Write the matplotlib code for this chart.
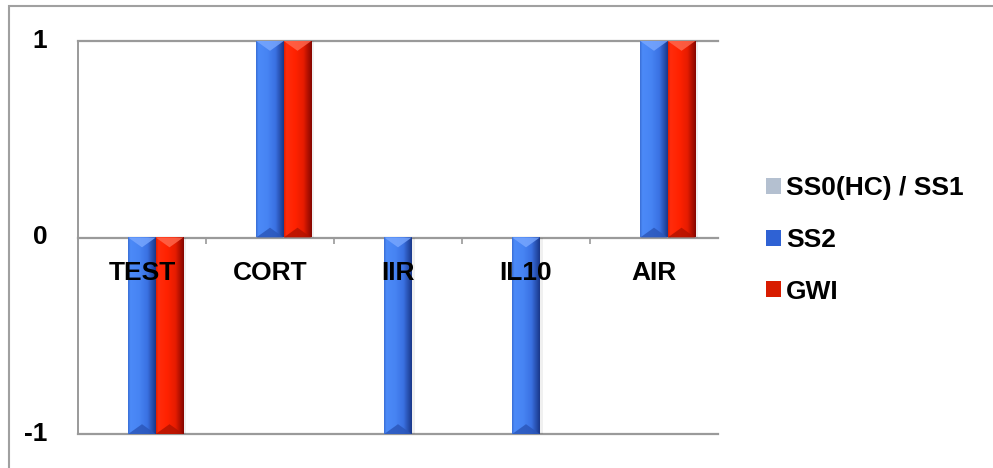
import matplotlib
matplotlib.use("Agg")
import matplotlib.pyplot as plt
import numpy as np
from matplotlib.colors import LinearSegmentedColormap
from matplotlib.patches import Rectangle, Polygon

plt.rcParams['font.family'] = ['Liberation Sans', 'DejaVu Sans']

categories = ["TEST", "CORT", "IIR", "IL10", "AIR"]
series_names = ["SS0(HC) / SS1", "SS2", "GWI"]
ss0_values = [0, 0, 0, 0, 0]
ss2_values = [-1, 1, -1, -1, 1]
gwi_values = [-1, 1, 0, 0, 1]
y_ticks = [-1, 0, 1]

W, H = 993, 468
fig = plt.figure(figsize=(W / 100, H / 100), dpi=100)
ax = fig.add_axes([78 / W, 1 - 434 / H, (718 - 78) / W, (434 - 41) / H])

grad_stops = {
    "SS2": ["#3a6ed6", "#4c8af8", "#4784f3", "#3a71e2", "#1a388a"],
    "GWI": ["#e01e00", "#ff2c0c", "#ff2200", "#e61c00", "#860600"],
    "SS0(HC) / SS1": ["#9aa8ba", "#c4cfdc", "#bcc8d6", "#a8b4c4", "#6a7688"],
}
top_col = {"SS2": "#7aa8ff", "GWI": "#ff6a50", "SS0(HC) / SS1": "#e0e8f0"}
bot_col = {"SS2": "#2a55b8", "GWI": "#b01200", "SS0(HC) / SS1": "#8090a0"}
legend_col = {"SS2": "#2f62d4", "GWI": "#d81c00", "SS0(HC) / SS1": "#b4c0d0"}

x = np.arange(len(categories))
bw = 0.215
offsets = [-bw, 0.0, bw]
all_vals = [ss0_values, ss2_values, gwi_values]

ax.set_xlim(-0.5, len(categories) - 0.5)
ax.set_ylim(-1, 1)

for name, vals, off in zip(series_names, all_vals, offsets):
    bars = ax.bar(x + off, vals, width=bw, color="none", edgecolor="none", zorder=2)
    cmap = LinearSegmentedColormap.from_list(name, list(zip([0, 0.08, 0.4, 0.7, 1.0], grad_stops[name])))
    for b in bars:
        h = b.get_height()
        if h == 0:
            continue
        x0 = b.get_x()
        x1 = x0 + b.get_width()
        ylo, yhi = sorted([b.get_y(), b.get_y() + h])
        # soft shadow
        ax.add_patch(Rectangle((x1, ylo), 0.025, yhi - ylo, facecolor="#000000",
                               alpha=0.06, edgecolor="none", zorder=1.8))
        grad = np.linspace(0, 1, 64).reshape(1, -1)
        ax.imshow(grad, cmap=cmap, extent=[x0, x1, ylo, yhi], aspect="auto",
                  zorder=2, interpolation="bilinear")
        xc = (x0 + x1) / 2
        th = 0.05
        ax.add_patch(Polygon([[x0, yhi], [x1, yhi], [xc, yhi - th]], closed=True,
                             facecolor=top_col[name], edgecolor="none", alpha=0.8, zorder=2.1))
        ax.add_patch(Polygon([[x0, ylo], [x1, ylo], [xc, ylo + th]], closed=True,
                             facecolor=bot_col[name], edgecolor="none", alpha=0.8, zorder=2.1))

ax.set_xlim(-0.5, len(categories) - 0.5)
ax.set_ylim(-1, 1)

grid_c = "#9a9a9a"
for yv in y_ticks:
    ax.axhline(yv, color=grid_c, lw=1.6, zorder=1, clip_on=False)

for s in ["top", "right", "bottom"]:
    ax.spines[s].set_visible(False)
ax.spines["left"].set_color(grid_c)
ax.spines["left"].set_linewidth(1.4)
ax.spines["bottom"].set_position(("data", 0))

ax.set_yticks(y_ticks)
ax.set_yticklabels([str(v) for v in y_ticks], fontsize=19, fontweight="bold")
ax.tick_params(axis="y", length=0, pad=22)
for t, dy in zip(ax.get_yticklabels(), [0, 0, 0]):
    t.set_va("center")

ax.set_xticks(np.arange(len(categories) - 1) + 0.5)
ax.set_xticklabels([])
ax.tick_params(axis="x", which="major", length=4, color=grid_c, width=1.2, direction="out")

for xi, lab in zip(x, categories):
    ax.annotate(lab, xy=(xi, 0), xytext=(0, -36), textcoords="offset pixels",
                ha="center", va="center", fontsize=19, fontweight="bold", zorder=5)

handles = [Rectangle((0, 0), 1, 1, facecolor=legend_col[n], edgecolor="none") for n in series_names]
leg = fig.legend(handles, series_names, loc="center left", bbox_to_anchor=(766 / W, 1 - 240 / H),
                 frameon=False, prop={"weight": "bold", "size": 19},
                 handlelength=0.55, handleheight=0.55, handletextpad=0.2,
                 labelspacing=1.05, borderpad=0, borderaxespad=0)

fig.patches.append(Rectangle((8.5 / W, -0.1), 1.2, 1.1 - 6 / H, transform=fig.transFigure,
                             fill=False, edgecolor="#a0a0a0", lw=1.5, figure=fig))

fig.savefig("out.png", dpi=100)
